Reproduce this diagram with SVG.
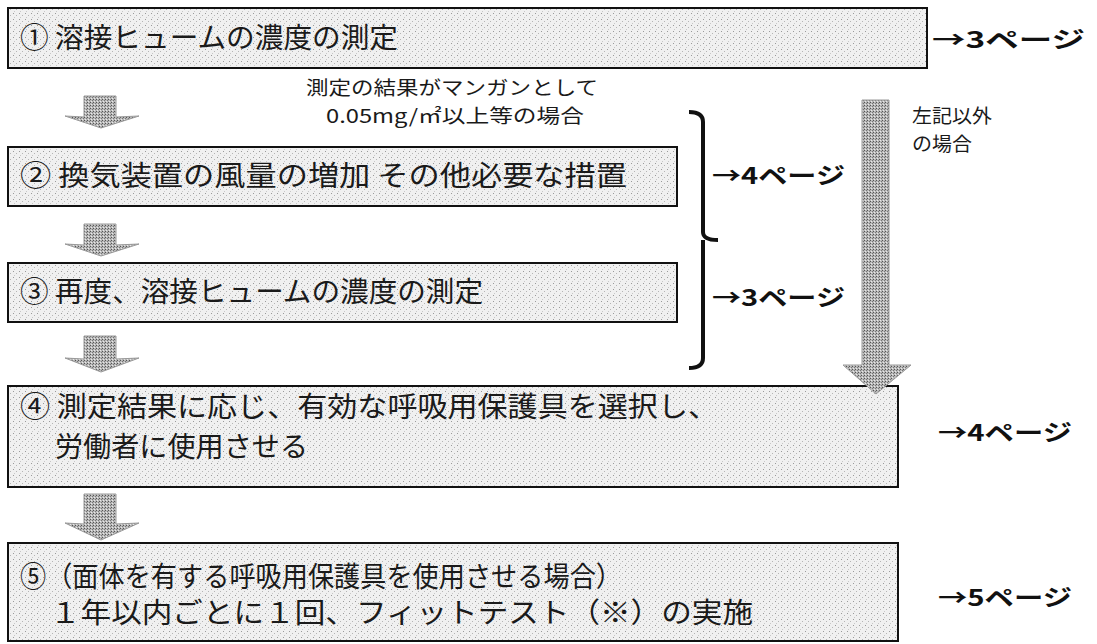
<svg xmlns="http://www.w3.org/2000/svg" width="1097" height="644" viewBox="0 0 1097 644">
<defs>
<pattern id="stip" width="6" height="6" patternUnits="userSpaceOnUse">
<rect width="6" height="6" fill="#f0f0f0"/>
<rect x="1" y="1" width="1" height="1" fill="#9a9a9a"/>
<rect x="4" y="3" width="1" height="1" fill="#b5b5b5"/>
<rect x="2" y="5" width="1" height="1" fill="#c8c8c8"/>
</pattern>
<pattern id="arrowfill" width="3" height="3" patternUnits="userSpaceOnUse">
<rect width="3" height="3" fill="#b8b8b8"/>
<rect x="0" y="0" width="1" height="1" fill="#555"/>
<rect x="2" y="1" width="1" height="1" fill="#777"/>
<rect x="1" y="2" width="1" height="1" fill="#e8e8e8"/>
</pattern>
</defs>
<style>
.box{fill:url(#stip);stroke:#111;stroke-width:2}
.bt{font-family:"Noto Sans CJK JP","Noto Sans",sans-serif;font-size:28px;fill:#1a1a1a}
.pg{font-family:"Noto Sans CJK JP","Noto Sans",sans-serif;font-size:23px;font-weight:bold;fill:#111}
.note{font-family:"Noto Sans CJK JP","Noto Sans",sans-serif;font-size:19px;fill:#1a1a1a}
.arr{fill:url(#arrowfill);stroke:#999;stroke-width:1}
.br{fill:none;stroke:#111;stroke-width:4;stroke-linejoin:round}
</style>
<rect width="1097" height="644" fill="#ffffff"/>

<g id="node1">
<rect class="box" x="8" y="8" width="919" height="60"/>
<text class="bt" x="20" y="48" textLength="378" lengthAdjust="spacingAndGlyphs">① 溶接ヒュームの濃度の測定</text>
</g>
<g id="page1"><text class="pg" x="932" y="48" textLength="153" lengthAdjust="spacingAndGlyphs">→3ページ</text></g>

<g id="note-condition">
<text class="note" x="452" y="95" text-anchor="middle" textLength="292" lengthAdjust="spacingAndGlyphs">測定の結果がマンガンとして</text>
<text class="note" x="455" y="123" text-anchor="middle" textLength="258" lengthAdjust="spacingAndGlyphs">0.05mg/㎡以上等の場合</text>
</g>

<g id="node2">
<rect class="box" x="8" y="147" width="669" height="59"/>
<text class="bt" x="20" y="186" textLength="607" lengthAdjust="spacingAndGlyphs">② 換気装置の風量の増加 その他必要な措置</text>
</g>
<g id="node3">
<rect class="box" x="8" y="263" width="669" height="59"/>
<text class="bt" x="20" y="302" textLength="463" lengthAdjust="spacingAndGlyphs">③ 再度、溶接ヒュームの濃度の測定</text>
</g>
<g id="page2"><text class="pg" x="712" y="184" textLength="133" lengthAdjust="spacingAndGlyphs">→4ページ</text></g>
<g id="page3"><text class="pg" x="712" y="306" textLength="133" lengthAdjust="spacingAndGlyphs">→3ページ</text></g>

<g id="other-case">
<text class="note" x="912" y="123" textLength="80" lengthAdjust="spacingAndGlyphs">左記以外</text>
<text class="note" x="912" y="151" textLength="60" lengthAdjust="spacingAndGlyphs">の場合</text>
</g>

<g id="node4">
<rect class="box" x="8" y="386" width="890" height="101"/>
<text class="bt" x="20" y="417" textLength="698" lengthAdjust="spacingAndGlyphs">④ 測定結果に応じ、有効な呼吸用保護具を選択し、</text>
<text class="bt" x="55" y="457" textLength="253" lengthAdjust="spacingAndGlyphs">労働者に使用させる</text>
</g>
<g id="page4"><text class="pg" x="938" y="441" textLength="134" lengthAdjust="spacingAndGlyphs">→4ページ</text></g>

<g id="node5">
<rect class="box" x="8" y="543" width="890" height="98"/>
<text class="bt" x="20" y="587" textLength="602" lengthAdjust="spacingAndGlyphs">⑤（面体を有する呼吸用保護具を使用させる場合）</text>
<text class="bt" x="50" y="623" textLength="703" lengthAdjust="spacingAndGlyphs">１年以内ごとに１回、フィットテスト（※）の実施</text>
</g>
<g id="page5"><text class="pg" x="938" y="606" textLength="134" lengthAdjust="spacingAndGlyphs">→5ページ</text></g>

<g id="connectors">
<polygon class="arr" points="84,96 116,96 116,117 139,116 101,128 65,116 84,117"/>
<polygon class="arr" points="84,224 116,224 116,245 139,244 101,256 65,244 84,245"/>
<polygon class="arr" points="84,336 116,336 116,359 139,358 101,372 65,358 84,359"/>
<polygon class="arr" points="84,494 116,494 116,524 139,523 101,540 65,523 84,524"/>
<polygon class="arr" points="862,100 889,100 889,365 911,365 876,394 843,365 862,365"/>
<path class="br" d="M689,112 Q703,112 703,122 L703,232 Q703,240 718,240 M703,240 Q703,248 703,256 L703,358 Q703,368 689,368"/>
</g>
</svg>
